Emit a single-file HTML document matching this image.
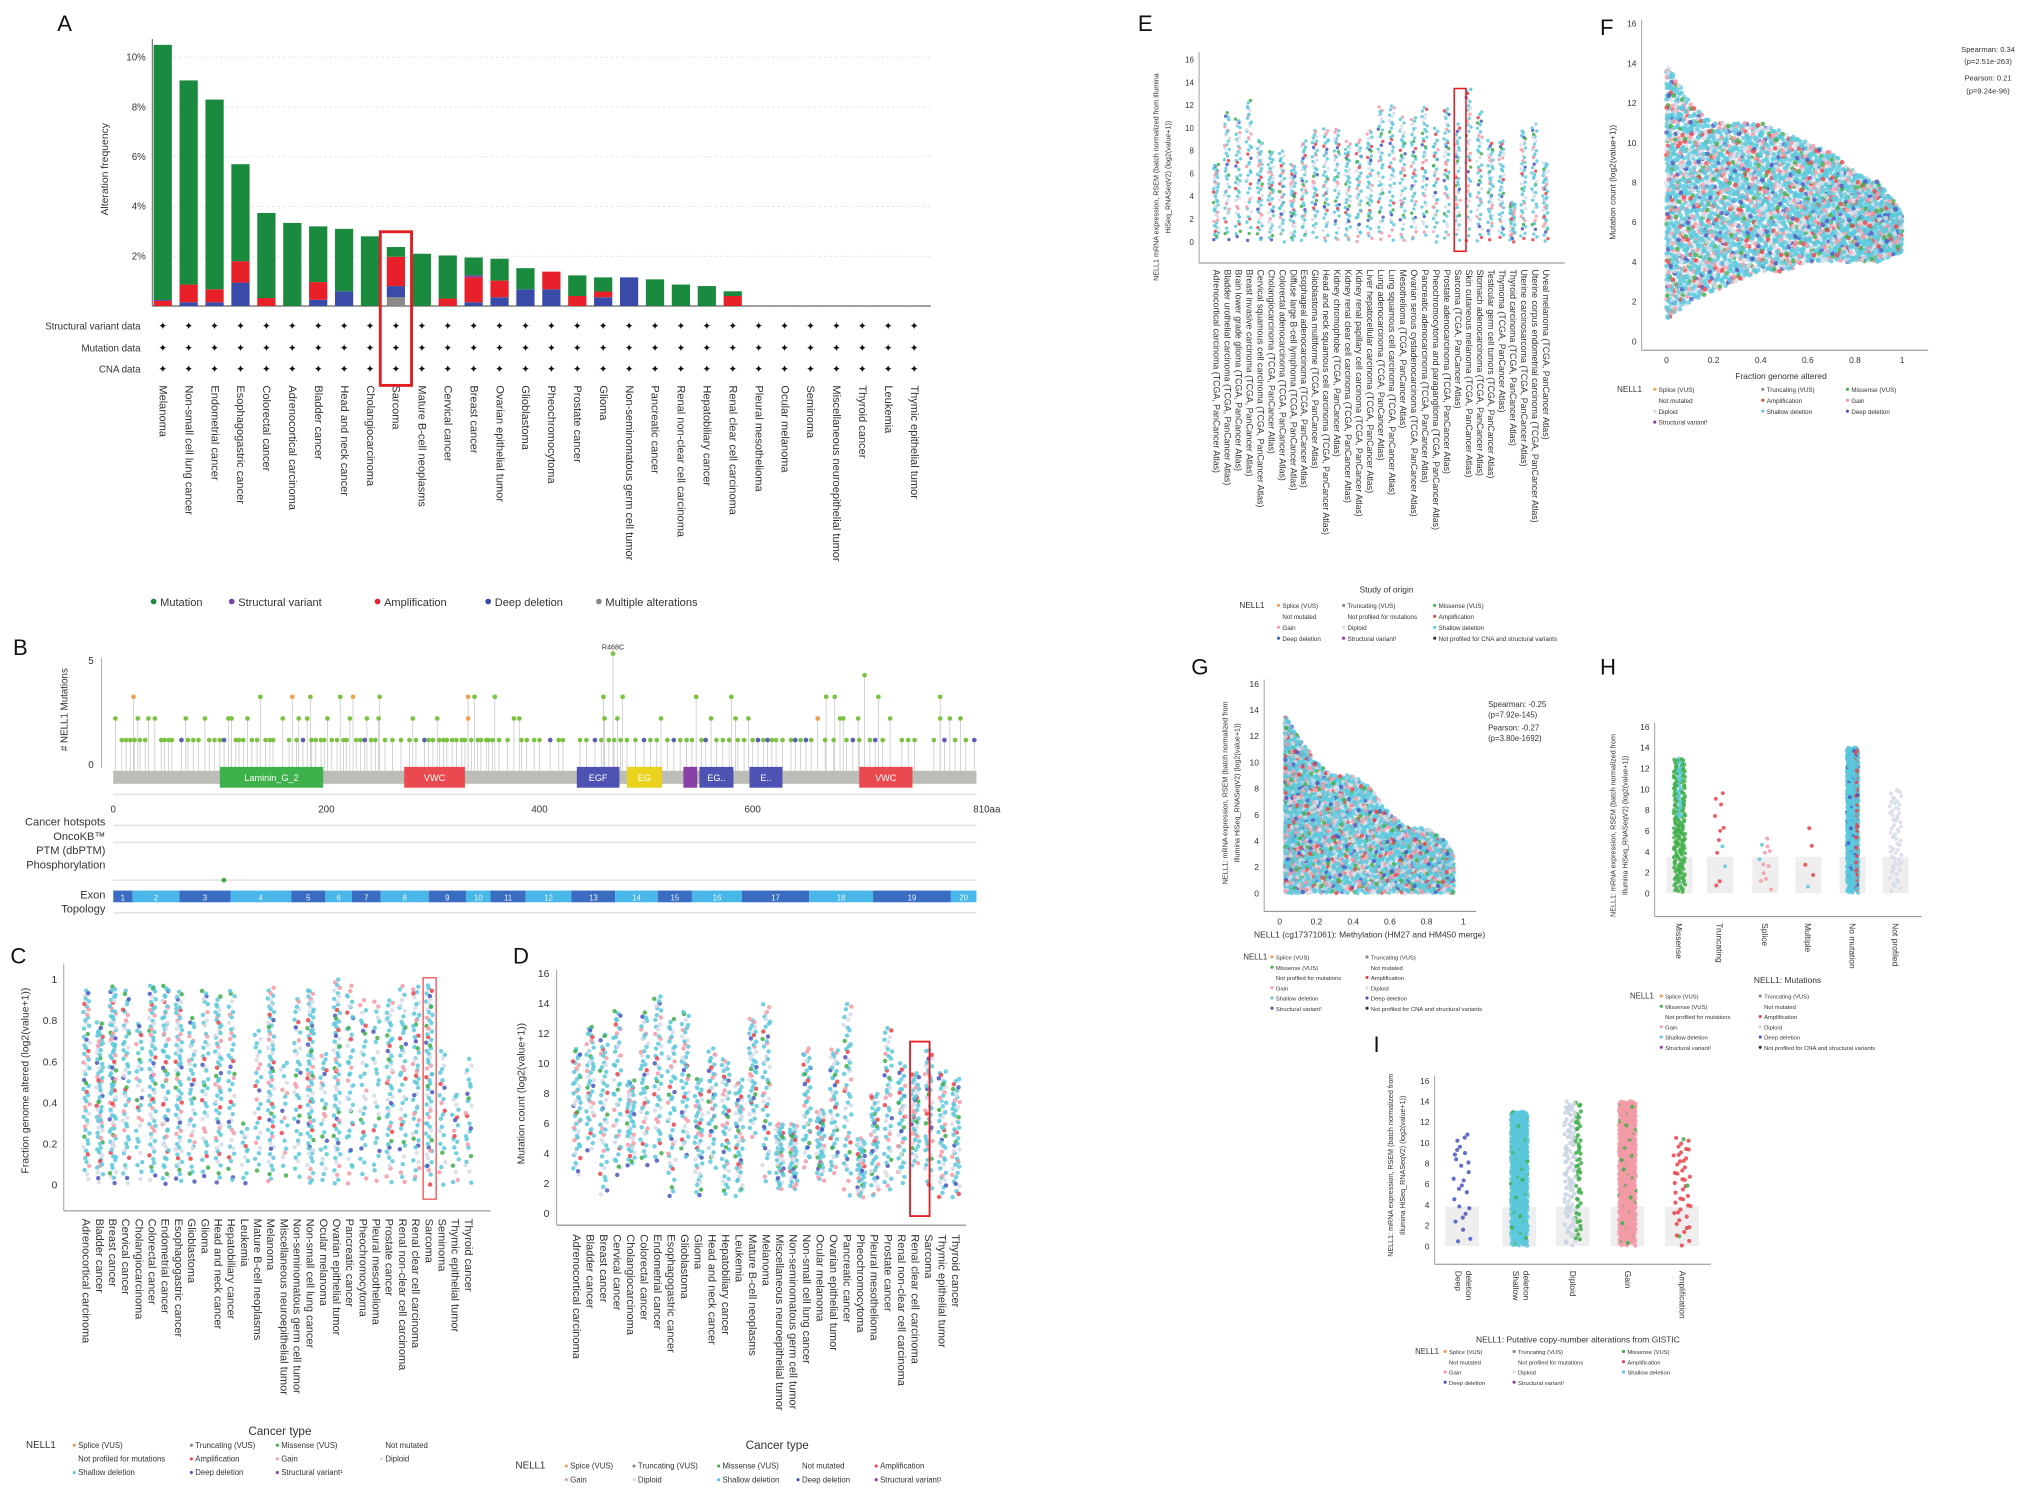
<!DOCTYPE html>
<html><head><meta charset="utf-8"><style>
html,body{margin:0;padding:0;background:#fff;}
svg{display:block;font-family:"Liberation Sans",Arial,sans-serif;}
</style></head><body>
<svg id="fig" xmlns="http://www.w3.org/2000/svg" width="2031" height="1493" viewBox="0 0 1560 1146.7" preserveAspectRatio="none">
<rect x="0" y="0" width="1560" height="1146.7" fill="#fff"/>
</svg>
<script>
// ---------- Panel A data ----------
const catsA=["Melanoma","Non-small cell lung cancer","Endometrial cancer","Esophagogastric cancer","Colorectal cancer","Adrenocortical carcinoma","Bladder cancer","Head and neck cancer","Cholangiocarcinoma","Sarcoma","Mature B-cell neoplasms","Cervical cancer","Breast cancer","Ovarian epithelial tumor","Glioblastoma","Pheochromocytoma","Prostate cancer","Glioma","Non-seminomatous germ cell tumor","Pancreatic cancer","Renal non-clear cell carcinoma","Hepatobiliary cancer","Renal clear cell carcinoma","Pleural mesothelioma","Ocular melanoma","Seminoma","Miscellaneous neuroepithelial tumor","Thyroid cancer","Leukemia","Thymic epithelial tumor"];
const multA=[0,0,0,0,0,0,0,0,0,0.35,0,0,0,0,0,0,0,0,0,0,0,0,0,0,0,0,0,0,0,0];
const delA=[0,0.15,0.15,0.94,0,0,0.25,0.59,0,0.45,0,0,0.15,0.35,0.67,0.67,0,0.35,1.15,0,0,0,0,0,0,0,0,0,0,0];
const ampA=[0.2,0.71,0.52,0.86,0.32,0,0.71,0,0,1.18,0,0.3,1.0,0.67,0,0.71,0.4,0.23,0,0,0,0,0.4,0,0,0,0,0,0,0];
const svA=[0.04,0,0,0,0,0,0,0,0,0,0,0,0.08,0,0,0,0,0,0,0,0,0,0,0,0,0,0,0,0,0];
const mutA=[10.26,8.21,7.63,3.9,3.42,3.34,2.24,2.51,2.8,0.39,2.1,1.73,0.72,0.88,0.85,0,0.83,0.57,0,1.07,0.86,0.8,0.19,0.03,0.03,0.03,0.03,0.03,0.03,0.03];
const ticksA=[2,4,6,8,10];
// ---------- Panel B data ----------
const exonBounds=[0,18,62,110,167,199,224,251,296,331,354,387,430,471,511,543,590,653,713,786,810];
const domainStart=[100,273,435,482,535,550,597,700];
const domainEnd=[197,330,475,515,548,582,628,750];
const domainLabel=["Laminin_G_2","VWC","EGF","EG","","EG..","E..","VWC"];
const domainColor=["#3db14a","#ea4a4f","#4e53b3","#e8d21e","#8a3fa6","#4e53b3","#4e53b3","#ea4a4f"];
const lolPos=[2,23,33,39,68,86,108,111,126,159,174,182,201,222,238,249,281,304,333,376,381,461,473,514,561,584,596,661,682,685,699,729,776,785,795,
19,138,168,185,213,225,250,333,339,358,460,478,547,580,669,677,718,776,705,469,
8,12,16,20,25,30,45,48,52,55,64,70,75,80,90,95,100,104,115,118,122,130,135,143,147,150,165,172,178,186,190,195,198,205,210,216,219,228,232,236,242,246,255,262,270,278,284,292,296,300,306,310,313,318,322,327,330,336,342,345,350,352,356,362,370,383,388,395,400,410,418,422,438,444,452,458,465,470,476,482,490,498,504,510,520,526,532,538,543,552,556,566,572,578,586,592,600,605,610,614,618,622,628,636,640,645,650,655,668,676,688,694,700,710,715,722,740,746,752,770,780,790,800,808];
const lolCount=[2,2,2,2,2,2,2,2,2,2,2,2,2,2,2,2,2,2,2,2,2,2,2,2,2,2,2,2,2,2,2,2,2,2,2,
3,3,3,3,3,3,3,3,3,3,3,3,3,3,3,3,3,3,4,5];
const lolOrange=[19,168,225,333,661];
const lolBlue=[64,104,178,236,292,410,452,498,526,556,605,614,640,650,694,715,780,808];
// ---------- Panel C data ----------
const catsC=["Adrenocortical carcinoma","Bladder cancer","Breast cancer","Cervical cancer","Cholangiocarcinoma","Colorectal cancer","Endometrial cancer","Esophagogastric cancer","Glioblastoma","Glioma","Head and neck cancer","Hepatobiliary cancer","Leukemia","Mature B-cell neoplasms","Melanoma","Miscellaneous neuroepithelial tumor","Non-seminomatous germ cell tumor","Non-small cell lung cancer","Ocular melanoma","Ovarian epithelial tumor","Pancreatic cancer","Pheochromocytoma","Pleural mesothelioma","Prostate cancer","Renal non-clear cell carcinoma","Renal clear cell carcinoma","Sarcoma","Seminoma","Thymic epithelial tumor","Thyroid cancer"];
const hiC=[0.97,0.8,0.97,0.95,0.8,0.97,0.97,0.95,0.82,0.96,0.92,0.95,0.3,0.75,0.97,0.6,0.92,0.95,0.65,1.0,0.97,0.92,0.9,0.9,0.97,0.97,0.97,0.65,0.45,0.62];
const nC=[60,70,90,55,35,70,70,70,45,45,60,45,15,30,65,20,40,80,30,70,45,35,30,55,45,55,70,25,20,25];
const ticksC=[0,0.2,0.4,0.6,0.8,1];
// ---------- Panel D data ----------
const catsD=["Adrenocortical carcinoma","Bladder cancer","Breast cancer","Cervical cancer","Cholangiocarcinoma","Colorectal cancer","Endometrial cancer","Esophagogastric cancer","Glioblastoma","Glioma","Head and neck cancer","Hepatobiliary cancer","Leukemia","Mature B-cell neoplasms","Melanoma","Miscellaneous neuroepithelial tumor","Non-seminomatous germ cell tumor","Non-small cell lung cancer","Ocular melanoma","Ovarian epithelial tumor","Pancreatic cancer","Pheochromocytoma","Pleural mesothelioma","Prostate cancer","Renal non-clear cell carcinoma","Renal clear cell carcinoma","Sarcoma","Thymic epithelial tumor","Thyroid cancer"];
const loD=[2.5,4,1,2.5,3,3,3,1,3.5,1,3,1,1,5,2,1.5,1.5,3,2,2.5,1,1,1,1,2,3,1.5,1,1];
const hiD=[11,12.5,12,13.5,9,13.5,14.5,13,13.5,9,11,10.5,9,13,14,6,6,11,7,11,14,5,8,12.5,10,9.5,11,9.5,9];
const ticksD=[0,2,4,6,8,10,12,14,16];
// ---------- Panel E data ----------
const catsE=["Adrenocortical carcinoma","Bladder urothelial carcinoma","Brain lower grade glioma","Breast invasive carcinoma","Cervical squamous cell carcinoma","Cholangiocarcinoma","Colorectal adenocarcinoma","Diffuse large B-cell lymphoma","Esophageal adenocarcinoma","Glioblastoma multiforme","Head and neck squamous cell carcinoma","Kidney chromophobe","Kidney renal clear cell carcinoma","Kidney renal papillary cell carcinoma","Liver hepatocellular carcinoma","Lung adenocarcinoma","Lung squamous cell carcinoma","Mesothelioma","Ovarian serous cystadenocarcinoma","Pancreatic adenocarcinoma","Pheochromocytoma and paraganglioma","Prostate adenocarcinoma","Sarcoma","Skin cutaneous melanoma","Stomach adenocarcinoma","Testicular germ cell tumors","Thymoma","Thyroid carcinoma","Uterine carcinosarcoma","Uterine corpus endometrial carcinoma","Uveal melanoma"];
const hiE=[7,11.5,11,12.5,9,8,8,7,9,10,10,10,9,9,10,12,12,11,11,12,10,12,10.5,13.5,11.5,9,9,3.5,10,10.5,7];
const ticksE=[0,2,4,6,8,10,12,14,16];
// ---------- Panel F data ----------
const envFx=[0,0.1,0.2,0.3,0.4,0.5,0.6,0.7,0.8,0.9,1.0];
const envFlo=[1,2,2.5,3,3.5,3.5,4,4,4,4,4.5];
const envFhi=[14,12,11,11,11,10.5,10,9.5,8.5,8,6.5];
const ticksFx=[0,0.2,0.4,0.6,0.8,1];
const ticksFy=[0,2,4,6,8,10,12,14,16];
// ---------- Panel G data ----------
const envGx=[0.03,0.1,0.2,0.3,0.4,0.5,0.6,0.7,0.8,0.9,0.95];
const envGlo=[0,0,0,0,0,0,0,0,0,0,0];
const envGhi=[13.5,12,10,9,9,8,6,5,5,4,3];
const ticksGx=[0,0.2,0.4,0.6,0.8,1];
// ---------- Panel H data ----------
const catsH=["Missense","Truncating","Splice","Multiple","No mutation","Not profiled"];
const hiH=[13,10,5.5,7.5,14,10];
const nH=[200,12,12,5,700,60];
const colH=["#3fae49","#e8434a","#f29aa6","#e8434a","#5bc8dc","#d6dbe6"];
// ---------- Panel I data ----------
const catsI=["Deep deletion","Shallow deletion","Diploid","Gain","Amplification"];
const hiI=[11,13,14,14,10.5];
const nI=[25,700,160,700,45];
const colI=["#4a56c0","#5bc8dc","#d6dbe6","#f29aa6","#e8434a"];

const NS="http://www.w3.org/2000/svg";
const fig=document.getElementById('fig');
function mk(tag,attrs,parent,txt){const e=document.createElementNS(NS,tag);for(const k in attrs)e.setAttribute(k,attrs[k]);if(txt!==undefined)e.textContent=txt;(parent||fig).appendChild(e);return e;}
function grp(name){const g=mk('g',{});


return g;}
function frac(v){return v-Math.floor(v);}
function halton(i,b){let f=1,r=0;while(i>0){f/=b;r+=f*(i%b);i=Math.floor(i/b);}return r;}
function label(g,x,y,t,size,anchor,rot,weight){const a={x:x,y:y,'font-size':size,fill:'#333','text-anchor':anchor||'start'};if(rot)a.transform='rotate('+rot+' '+x+' '+y+')';if(weight)a['font-weight']=weight;const e=mk('text',a,g,t);


return e;}
function panelLetter(x,y,t){const e=mk('text',{x:x,y:y,'font-size':17,fill:'#111'},fig,t);

}

// ================= PANEL A =================
panelLetter(44,24,'A');
(function(){
const g=grp('panel-a-bar-chart');
const x0=125,dx=19.9,base=235,pp=19.1,bw=14;
const yA=v=>base-v*pp, xA=i=>x0+i*dx;
ticksA.forEach(t=>{mk('line',{x1:117,x2:715,y1:yA(t),y2:yA(t),stroke:'#ddd','stroke-dasharray':'2,2','stroke-width':0.6},g);
label(g,112,yA(t)+2.5,t+'%',7.5,'end');});
const ya=mk('line',{x1:117,x2:117,y1:30,y2:base,stroke:'#666','stroke-width':0.8},g);


mk('line',{x1:117,x2:715,y1:base,y2:base,stroke:'#666','stroke-width':1},g);
label(g,83,130,'Alteration frequency',8,'middle',-90);
const layers=[[multA,'#8a8a8a','multiple'],[delA,'#3a4aa8','deep-deletion'],[ampA,'#e8202a','amplification'],[svA,'#7a3fa0','structural-variant'],[mutA,'#1a8a3e','mutation']];
catsA.forEach((c,i)=>{let acc=0;layers.forEach(L=>{const v=L[0][i];if(v>0){const r=mk('rect',{x:xA(i)-bw/2,y:yA(acc+v),width:bw,height:v*pp,fill:(i>=23?'#999':L[1])},g);


acc+=v;}});
[250,267,283].forEach(yy=>{const d=mk('text',{x:xA(i),y:yy+3,'font-size':8,'text-anchor':'middle',fill:'#111'},g,'✦');

});
label(g,xA(i)-2.5,296,c,8.5,'start',90);});
label(g,108,253,'Structural variant data',7.5,'end');
label(g,108,270,'Mutation data',7.5,'end');
label(g,108,286,'CNA data',7.5,'end');
const box=mk('rect',{x:xA(9)-12,y:178,width:24,height:118,fill:'none',stroke:'#e21d24','stroke-width':2.2},g);


const leg=[['Mutation','#1a8a3e',118],['Structural variant','#7a3fa0',178],['Amplification','#e8202a',290],['Deep deletion','#3a4aa8',375],['Multiple alterations','#8a8a8a',460]];
leg.forEach(L=>{const c=mk('circle',{cx:L[2],cy:462,r:2.2,fill:L[1]},g);


label(g,L[2]+5,465.5,L[0],8.5);});
})();

// ================= PANEL B =================
panelLetter(10,503,'B');
(function(){
const g=grp('panel-b-lollipop');
const xB=aa=>87+aa*(750-87)/810, yB=c=>585-c*16.6;
label(g,52,545,'# NELL1 Mutations',7.5,'middle',-90);
label(g,72,510,'5',7.5,'end');label(g,72,590,'0',7.5,'end');
mk('line',{x1:78,x2:78,y1:505,y2:590,stroke:'#999','stroke-width':0.6},g);
lolPos.forEach((p,i)=>{const c=i<lolCount.length?lolCount[i]:1;
mk('line',{x1:xB(p),x2:xB(p),y1:592,y2:yB(c),stroke:'#c8c8c8','stroke-width':0.6},g);});
lolPos.forEach((p,i)=>{const c=i<lolCount.length?lolCount[i]:1;
const col=(c>1&&lolOrange.indexOf(p)>=0)?'#f0a050':(c===1&&lolBlue.indexOf(p)>=0?'#5a5fb0':'#7cc242');
const d=mk('circle',{cx:xB(p),cy:yB(c),r:1.8,fill:col},g);

});
label(g,xB(469),499,'R468C',5.5,'middle');
const pb=mk('rect',{x:87,y:592,width:663,height:10,fill:'#bdbdb8'},g);


domainStart.forEach((s,i)=>{const r=mk('rect',{x:xB(s),y:589,width:xB(domainEnd[i])-xB(s),height:16,fill:domainColor[i]},g);


if(domainLabel[i]){const t=mk('text',{x:(xB(s)+xB(domainEnd[i]))/2,y:600,'font-size':7,fill:'#fff','text-anchor':'middle'},g,domainLabel[i]);

}});
[0,200,400,600].forEach(t=>label(g,xB(t),624,String(t),7.5,'middle'));
label(g,xB(810)+8,624,'810aa',7.5,'middle');
mk('line',{x1:87,x2:750,y1:610,y2:610,stroke:'#ccc','stroke-width':0.6},g);
[['Cancer hotspots',634],['OncoKB™',645],['PTM (dbPTM)',656],['Phosphorylation',667],['Exon',690],['Topology',701]].forEach(a=>label(g,81,a[1],a[0],8.5,'end'));
[634,647,676,701].forEach(y=>mk('line',{x1:87,x2:750,y1:y,y2:y,stroke:'#e2e2e2','stroke-width':1.2},g));
mk('circle',{cx:172,cy:676,r:1.8,fill:'#3aa845'},g);
for(let i=0;i<20;i++){const r=mk('rect',{x:xB(exonBounds[i]),y:684,width:xB(exonBounds[i+1])-xB(exonBounds[i]),height:9,fill:i%2?'#49b7e8':'#3a6dc2'},g);


label(g,(xB(exonBounds[i])+xB(exonBounds[i+1]))/2,691.5,String(i+1),6,'middle').setAttribute('fill','#e8f4ff');}
})();

const PAL=['#5bc8dc','#5bc8dc','#5bc8dc','#d6dbe6','#5bc8dc','#f29aa6','#5bc8dc','#d6dbe6','#5bc8dc','#3fae49','#5bc8dc','#e8434a','#5bc8dc','#d6dbe6','#5bc8dc','#f29aa6','#4a56c0'];
function strip(g,xc,lo,hi,n,ys,jw,r,seed,colFn){for(let j=0;j<n;j++){const idx=j+1+seed*37;const u=halton(idx,2);const v=lo+(hi-lo)*Math.pow(u,0.85);const jx=(halton(idx,3)-0.5)*jw;
const c=colFn?colFn(j):PAL[(j*7+seed)%PAL.length];
const d=mk('circle',{cx:xc+jx,cy:ys(v),r:r,fill:c,'fill-opacity':0.85},g);

}}
function legendBlock(g,x0,y0,cols,rows,items,fs){label(g,x0,y0+2,'NELL1',fs+1.5);
items.forEach((it,k)=>{const cx=cols[Math.floor(k/rows)],cy=y0+(k%rows)*fs*1.75;
mk('circle',{cx:cx,cy:cy,r:1.2,fill:it[1]},g);label(g,cx+3,cy+2,it[0],fs);});}

// ================= PANEL C =================
panelLetter(8,740,'C');
(function(){
const g=grp('panel-c-fga-strip');
const yC=v=>910-v*158, xC=i=>66.5+i*(360-66.5)/29;
ticksC.forEach(t=>label(g,44,yC(t)+3,String(t),8,'end'));
mk('line',{x1:49,x2:49,y1:740,y2:930,stroke:'#888','stroke-width':0.6},g);
mk('line',{x1:49,x2:377,y1:930,y2:930,stroke:'#888','stroke-width':0.8},g);
label(g,22,830,'Fraction genome altered (log2(value+1))',8,'middle',-90);
catsC.forEach((c,i)=>{strip(g,xC(i),0,hiC[i],nC[i],yC,5,1.7,i);label(g,xC(i)-3,936,c,8.5,'start',90);});
mk('rect',{x:325,y:751,width:10,height:170,fill:'none',stroke:'#e85050','stroke-width':1},g);
label(g,215,1102,'Cancer type',9,'middle');
legendBlock(g,20,1110,[57,147,213,293],3,[['Splice (VUS)','#f0a050'],['Not profiled for mutations','#fff'],['Shallow deletion','#5bc8dc'],['Truncating (VUS)','#888'],['Amplification','#e8434a'],['Deep deletion','#4a56c0'],['Missense (VUS)','#3fae49'],['Gain','#f29aa6'],['Structural variant\u00b9','#8a3fa6'],['Not mutated','#fff'],['Diploid','#d6dbe6']],6);
})();

// ================= PANEL D =================
panelLetter(394,740,'D');
(function(){
const g=grp('panel-d-mutation-count-strip');
const yD=v=>931.8-v*11.52, xD=i=>443+i*10.4;
ticksD.forEach(t=>label(g,422,yD(t)+3,String(t),8,'end'));
mk('line',{x1:427.6,x2:427.6,y1:745,y2:941,stroke:'#888','stroke-width':0.6},g);
mk('line',{x1:427.6,x2:742,y1:941,y2:941,stroke:'#888','stroke-width':0.8},g);
label(g,403,840,'Mutation count (log2(value+1))',8,'middle',-90);
catsD.forEach((c,i)=>{strip(g,xD(i),loD[i],hiD[i],50,yD,6,1.7,i+3);label(g,xD(i)-3,948,c,8.5,'start',90);});
mk('rect',{x:699,y:800,width:15,height:134,fill:'none',stroke:'#e21d24','stroke-width':1.4},g);
label(g,597,1113,'Cancer type',9,'middle');
legendBlock(g,396,1126,[435,487,552,613,673],2,[['Spice (VUS)','#f0a050'],['Gain','#f29aa6'],['Truncating (VUS)','#888'],['Diploid','#d6dbe6'],['Missense (VUS)','#3fae49'],['Shallow deletion','#5bc8dc'],['Not mutated','#fff'],['Deep deletion','#4a56c0'],['Amplification','#e8434a'],['Structural variant\u00b9','#8a3fa6']],6);
})();

// ================= PANEL E =================
panelLetter(874,24,'E');
(function(){
const g=grp('panel-e-expression-strip');
const yE=v=>186-v*8.75, xE=i=>934+i*(1187-934)/30;
ticksE.forEach(t=>label(g,917,yE(t)+2,String(t),6,'end'));
mk('line',{x1:921,x2:921,y1:40,y2:202,stroke:'#888','stroke-width':0.6},g);
mk('line',{x1:921,x2:1202,y1:202,y2:202,stroke:'#888','stroke-width':0.8},g);
label(g,890,136,'NELL1 mRNA expression, RSEM (batch normalized from Illumina',5.5,'middle',-90);
label(g,899,136,'HiSeq_RNASeqV2) (log2(value+1))',5.5,'middle',-90);
catsE.forEach((c,i)=>{strip(g,xE(i),0,hiE[i],45,yE,4,1.3,i+7);label(g,xE(i)-2,207,c+' (TCGA, PanCancer Atlas)',6.8,'start',90);});
mk('rect',{x:1117,y:68,width:9,height:125,fill:'none',stroke:'#e21d24','stroke-width':1.2},g);
label(g,1065,455,'Study of origin',6.5,'middle');
legendBlock(g,952,465,[982,1032,1102],4,[['Splice (VUS)','#f0a050'],['Not mutated','#fff'],['Gain','#f29aa6'],['Deep deletion','#4a56c0'],['Truncating (VUS)','#888'],['Not profiled for mutations','#fff'],['Diploid','#d6dbe6'],['Structural variant\u00b9','#8a3fa6'],['Missense (VUS)','#3fae49'],['Amplification','#e8434a'],['Shallow deletion','#5bc8dc'],['Not profiled for CNA and structural variants','#333']],4.8);
})();

function cloud(g,ex,elo,ehi,n,xs,ys,r,seed,xp){for(let j=0;j<n;j++){const idx=j+1+seed;let xf=Math.pow(halton(idx,2),xp);const x=ex[0]+xf*(ex[ex.length-1]-ex[0]);
let k=0;while(k<ex.length-2&&x>ex[k+1])k++;const t=(x-ex[k])/(ex[k+1]-ex[k]);const lo=elo[k]+(elo[k+1]-elo[k])*t,hi=ehi[k]+(ehi[k+1]-ehi[k])*t;
const v=lo+(hi-lo)*halton(idx,3);
const d=mk('circle',{cx:xs(x),cy:ys(v),r:r,fill:PAL[(j*5)%PAL.length],'fill-opacity':0.8},g);

}}

// ================= PANEL F =================
panelLetter(1229,27,'F');
(function(){
const g=grp('panel-f-fga-vs-mutation');
const xF=v=>1280+v*181, yF=v=>262-v*15.25;
ticksFy.forEach(t=>label(g,1257,yF(t)+2.5,String(t),6.5,'end'));
ticksFx.forEach(t=>label(g,xF(t),279,String(t),6.5,'middle'));
mk('line',{x1:1261,x2:1261,y1:15,y2:269,stroke:'#888','stroke-width':0.6},g);
mk('line',{x1:1261,x2:1481,y1:269,y2:269,stroke:'#888','stroke-width':0.8},g);
label(g,1241,140,'Mutation count (log2(value+1))',6.5,'middle',-90);
label(g,1368,291,'Fraction genome altered',6.5,'middle');
cloud(g,envFx,envFlo,envFhi,3200,xF,yF,1.8,11,1.25);
[['Spearman: 0.34',40],['(p=2.51e-263)',49],['Pearson: 0.21',62],['(p=9.24e-96)',72]].forEach(a=>label(g,1527,a[1],a[0],5.8,'middle'));
legendBlock(g,1242,299,[1271,1354,1419],4,[['Splice (VUS)','#f0a050'],['Not mutated','#fff'],['Diploid','#d6dbe6'],['Structural variant\u00b9','#8a3fa6'],['Truncating (VUS)','#888'],['Amplification','#e8434a'],['Shallow deletion','#5bc8dc'],['','#fff'],['Missense (VUS)','#3fae49'],['Gain','#f29aa6'],['Deep deletion','#4a56c0']],4.8);
})();

// ================= PANEL G =================
panelLetter(915,518,'G');
(function(){
const g=grp('panel-g-methylation-vs-expression');
const xG=v=>983+v*141, yG=v=>686-v*10.06;
ticksE.forEach(t=>label(g,967,yG(t)+2.5,String(t),6.5,'end'));
ticksGx.forEach(t=>label(g,xG(t),710,String(t),6.5,'middle'));
mk('line',{x1:971,x2:971,y1:522,y2:700,stroke:'#888','stroke-width':0.6},g);
mk('line',{x1:971,x2:1134,y1:700,y2:700,stroke:'#888','stroke-width':0.8},g);
label(g,943,609,'NELL1: mRNA expression, RSEM (batch normalized from',5.5,'middle',-90);
label(g,952,609,'Illumina HiSeq_RNASeqV2) (log2(value+1))',5.5,'middle',-90);
label(g,1052,720,'NELL1 (cg17371061): Methylation (HM27 and HM450 merge)',6.5,'middle');
cloud(g,envGx,envGlo,envGhi,3000,xG,yG,1.7,23,1.7);
[['Spearman: -0.25',543],['(p=7.92e-145)',551],['Pearson: -0.27',561],['(p=3.80e-1692)',569]].forEach(a=>label(g,1143,a[1],a[0],6,'start'));
legendBlock(g,955,735,[977,1050],6,[['Splice (VUS)','#f0a050'],['Missense (VUS)','#3fae49'],['Not profiled for mutations','#fff'],['Gain','#f29aa6'],['Shallow deletion','#5bc8dc'],['Structural variant\u00b9','#8a3fa6'],['Truncating (VUS)','#888'],['Not mutated','#fff'],['Amplification','#e8434a'],['Diploid','#d6dbe6'],['Deep deletion','#4a56c0'],['Not profiled for CNA and structural variants','#333']],4.5);
})();

// ================= PANEL H =================
panelLetter(1229,518,'H');
(function(){
const g=grp('panel-h-mutation-expression');
const yH=v=>686-v*8, xH=[1290,1321,1356,1389,1423,1456];
ticksE.forEach(t=>label(g,1267,yH(t)+2.5,String(t),6.5,'end'));
mk('line',{x1:1271,x2:1271,y1:555,y2:704,stroke:'#888','stroke-width':0.6},g);
mk('line',{x1:1271,x2:1476,y1:704,y2:704,stroke:'#888','stroke-width':0.8},g);
label(g,1241,634,'NELL1: mRNA expression, RSEM (batch normalized from',5.5,'middle',-90);
label(g,1250,634,'Illumina HiSeq_RNASeqV2) (log2(value+1))',5.5,'middle',-90);
catsH.forEach((c,i)=>{mk('rect',{x:xH[i]-10,y:yH(3.5),width:20,height:yH(0)-yH(3.5),fill:'#eee'},g);
strip(g,xH[i],0,hiH[i],nH[i],yH,9,1.5,i,j=>(i===4?(j%9===0?'#e8434a':(j%13===0?'#4a56c0':'#5bc8dc')):(j%6===0&&i!==5?'#5bc8dc':colH[i])));
label(g,xH[i]-2.5,709,c,6.5,'start',90);});
label(g,1373,755,'NELL1: Mutations',6.5,'middle');
legendBlock(g,1252,765,[1276,1352],6,[['Splice (VUS)','#f0a050'],['Missense (VUS)','#3fae49'],['Not profiled for mutations','#fff'],['Gain','#f29aa6'],['Shallow deletion','#5bc8dc'],['Structural variant\u00b9','#8a3fa6'],['Truncating (VUS)','#888'],['Not mutated','#fff'],['Amplification','#e8434a'],['Diploid','#d6dbe6'],['Deep deletion','#4a56c0'],['Not profiled for CNA and structural variants','#333']],4.5);
})();

// ================= PANEL I =================
panelLetter(1055,808,'I');
(function(){
const g=grp('panel-i-cna-expression');
const yI=v=>957-v*7.94, xI=[1123,1167,1208,1250,1292];
ticksE.forEach(t=>label(g,1098,yI(t)+2.5,String(t),6.5,'end'));
mk('line',{x1:1102,x2:1102,y1:826,y2:971,stroke:'#888','stroke-width':0.6},g);
mk('line',{x1:1102,x2:1314,y1:971,y2:971,stroke:'#888','stroke-width':0.8},g);
label(g,1070,895,'NELL1: mRNA expression, RSEM (batch normalized from',5.5,'middle',-90);
label(g,1079,895,'Illumina HiSeq_RNASeqV2) (log2(value+1))',5.5,'middle',-90);
catsI.forEach((c,i)=>{mk('rect',{x:xI[i]-13,y:yI(3.8),width:26,height:yI(0)-yI(3.8),fill:'#eee'},g);
strip(g,xI[i],0,hiI[i],nI[i],yI,13,1.6,i+2,j=>(i===2?(j%3===0?'#3fae49':'#c9d3e0'):(j%17===0&&i!==0?'#3fae49':colI[i])));
const parts=c.split(' ');if(parts.length>1){label(g,xI[i]-5,976,parts[0],6.5,'start',90);label(g,xI[i]+3,976,parts[1],6.5,'start',90);}else label(g,xI[i]-2,976,c,6.5,'start',90);});
label(g,1212,1031,'NELL1: Putative copy-number alterations from GISTIC',6.5,'middle');
legendBlock(g,1087,1038,[1110,1163,1247],4,[['Splice (VUS)','#f0a050'],['Not mutated','#fff'],['Gain','#f29aa6'],['Deep deletion','#4a56c0'],['Truncating (VUS)','#888'],['Not profiled for mutations','#fff'],['Diploid','#d6dbe6'],['Structural variant\u00b9','#8a3fa6'],['Missense (VUS)','#3fae49'],['Amplification','#e8434a'],['Shallow deletion','#5bc8dc']],4.5);
})();
</script>
</body></html>
